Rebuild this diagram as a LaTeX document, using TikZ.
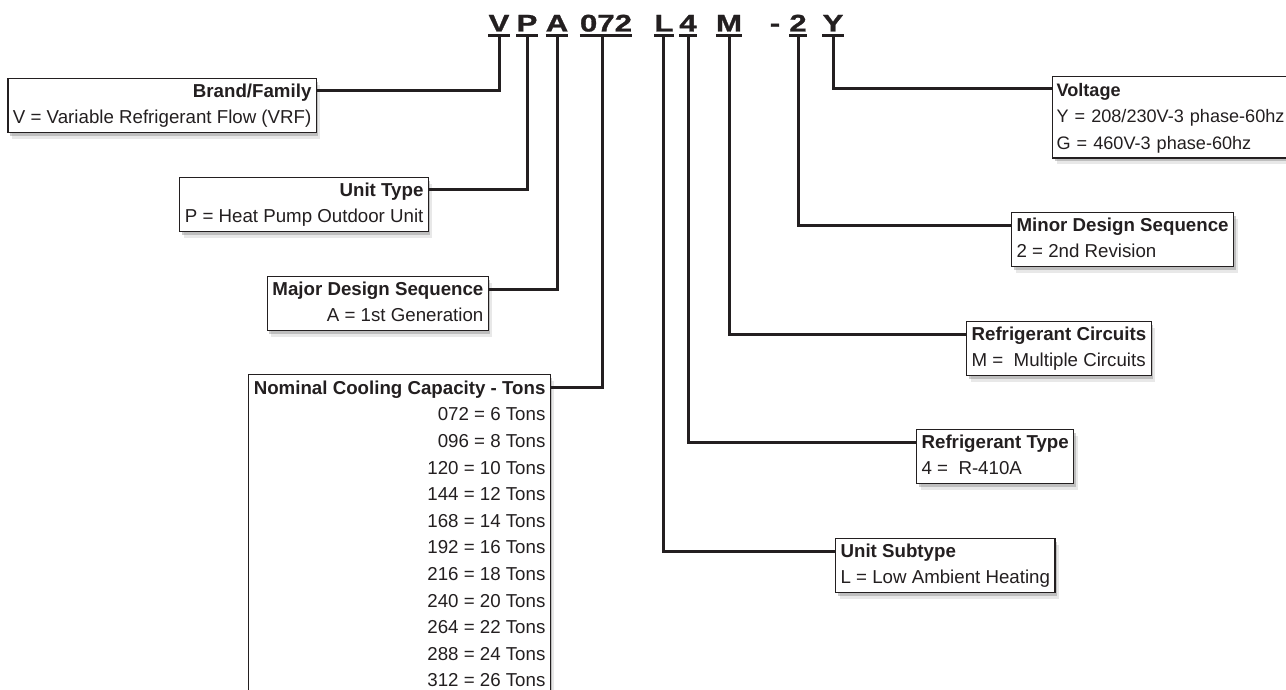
\documentclass[tikz,border=0pt]{standalone}
\usepackage{fontspec}
\setmainfont{Liberation Sans}
\newfontface\codefont[FakeStretch=1.3,FakeBold=1.2]{Liberation Sans Bold}
\usepackage{xcolor}
\usetikzlibrary{shadows,positioning}
\definecolor{inkgray}{RGB}{35,31,32}

\begin{document}
\begin{tikzpicture}[
    x=1pt, y=-1pt,
    letter/.style={font={\codefont\fontsize{24}{24}\selectfont}, text=inkgray, inner sep=0pt, text height=17pt, text depth=4pt, anchor=base},
    box/.style={draw=inkgray, fill=white, line width=1.2pt, inner xsep=5pt, inner ysep=1pt, text=inkgray, font=\fontsize{18.7}{26}\selectfont,
        drop shadow={shadow xshift=2pt, shadow yshift=-3pt, opacity=0.4},
        drop shadow={shadow xshift=4pt, shadow yshift=-6pt, opacity=0.18}},
    lbox/.style={box, anchor=north east, align=right},
    rbox/.style={box, anchor=north west, align=left},
    link/.style={draw=inkgray, line width=3pt}
]
    \useasboundingbox (0,0) rectangle (1286,690);
    \clip (0,0) rectangle (1286,690);

    % Model number
    \node[letter] (cV) at (499,31.5) {V};
    \node[letter] (cP) at (527,31.5) {P};
    \node[letter] (cA) at (557,31.5) {A};
    \node[letter] (c072) at (606,31.5) {072};
    \node[letter] (cL) at (664,31.5) {L};
    \node[letter] (c4) at (688,31.5) {4};
    \node[letter] (cM) at (729,31.5) {M};
    \node[letter] (cdash) at (775,31.5) {-};
    \node[letter] (c2) at (798,31.5) {2};
    \node[letter] (cY) at (833,31.5) {Y};
    \foreach \n in {cV,cP,cA,c072,cL,c4,cM,c2,cY}
        \draw[inkgray, line width=2.4pt] (\n.south west) -- (\n.south east);

    % Left legend boxes
    \node[lbox] (brand) at (317,78) {\textbf{Brand/Family}\strut\\V = Variable Refrigerant Flow (VRF)\strut};
    \node[lbox] (utype) at (429,177) {\textbf{Unit Type}\strut\\P = Heat Pump Outdoor Unit\strut};
    \node[lbox] (major) at (489,276) {\textbf{Major Design Sequence}\strut\\A = 1st Generation\strut};
    \node[lbox, font=\fontsize{18.7}{26.6}\selectfont] (tons) at (551,374) {\textbf{Nominal Cooling Capacity - Tons}\strut\\
        072 = 6 Tons\\096 = 8 Tons\\120 = 10 Tons\\144 = 12 Tons\\168 = 14 Tons\\192 = 16 Tons\\
        216 = 18 Tons\\240 = 20 Tons\\264 = 22 Tons\\288 = 24 Tons\\312 = 26 Tons\strut};

    % Right legend boxes
    \node[rbox, inner xsep=4pt, text width=236pt, font=\fontsize{18.1}{26.5}\selectfont] (volt) at (1052,76) {\textbf{Voltage}\strut\\Y = 208/230V-3 phase-60hz\\G = 460V-3 phase-60hz\strut};
    \node[rbox] (minor) at (1011,212) {\textbf{Minor Design Sequence}\strut\\2 = 2nd Revision\strut};
    \node[rbox] (circ) at (966,321) {\textbf{Refrigerant Circuits}\strut\\M = \ Multiple Circuits\strut};
    \node[rbox] (rtype) at (916,429) {\textbf{Refrigerant Type}\strut\\4 = \ R-410A\strut};
    \node[rbox] (subtype) at (835,538) {\textbf{Unit Subtype}\strut\\L = Low Ambient Heating\strut};

    % Links
    \draw[link] (cV.south) |- ([yshift=-13pt]brand.north east);
    \draw[link] (cP.south) |- ([yshift=-13pt]utype.north east);
    \draw[link] (cA.south) |- ([yshift=-13pt]major.north east);
    \draw[link] ([xshift=-4pt]c072.south) |- ([yshift=-13pt]tons.north east);
    \draw[link] ([xshift=-1pt]cL.south) |- ([yshift=-13pt]subtype.north west);
    \draw[link] (c4.south) |- ([yshift=-13pt]rtype.north west);
    \draw[link] (cM.south) |- ([yshift=-13pt]circ.north west);
    \draw[link] (c2.south) |- ([yshift=-13pt]minor.north west);
    \draw[link] (cY.south) |- ([yshift=-13pt]volt.north west);

\end{tikzpicture}
\end{document}
